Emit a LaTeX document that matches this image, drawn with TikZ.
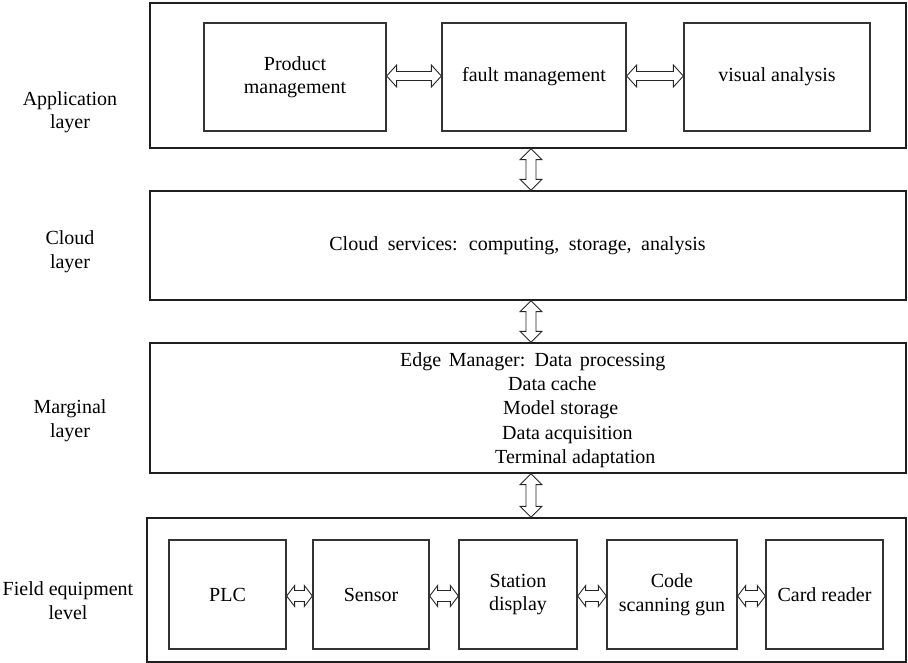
\documentclass[tikz,border=0pt]{standalone}
\usepackage{fontspec}
\setmainfont{Liberation Serif}
\usetikzlibrary{calc}

\tikzset{
  layerbox/.style={draw=black!88, line width=1.3pt, inner sep=0pt, fill=white},
  modbox/.style={draw=black!80, line width=1.3pt, inner sep=0pt, align=center},
  lbl/.style={align=center, inner sep=0pt},
  blockarrow/.style={draw=black!85, line width=0.9pt, fill=white, line join=miter},
}

% horizontal double block arrow between two anchors on the same row
% #1 start, #2 end, #3 head length, #4 half head width, #5 half shaft width
\newcommand{\hdblarrow}[5]{%
  \draw[blockarrow] let \p1=(#1), \p2=(#2) in
    (\x1,\y1) -- (\x1+#3,\y1+#4) -- (\x1+#3,\y1+#5) -- (\x2-#3,\y1+#5)
    -- (\x2-#3,\y1+#4) -- (\x2,\y1) -- (\x2-#3,\y1-#4) -- (\x2-#3,\y1-#5)
    -- (\x1+#3,\y1-#5) -- (\x1+#3,\y1-#4) -- cycle;}
% vertical double block arrow, #1 upper anchor, #2 lower anchor
\newcommand{\vdblarrow}[5]{%
  \draw[blockarrow] let \p1=(#1), \p2=(#2) in
    (\x1,\y1) -- (\x1+#4,\y1-#3) -- (\x1+#5,\y1-#3) -- (\x1+#5,\y2+#3)
    -- (\x1+#4,\y2+#3) -- (\x1,\y2) -- (\x1-#4,\y2+#3) -- (\x1-#5,\y2+#3)
    -- (\x1-#5,\y1-#3) -- (\x1-#4,\y1-#3) -- cycle;}

\begin{document}
\begin{tikzpicture}[x=1pt, y=-1pt, font=\fontsize{20}{23.5}\selectfont]
\useasboundingbox (0,0) rectangle (908,663);

% layer frames
\node[layerbox, minimum width=756pt, minimum height=145pt] (app) at (528,75.5) {};
\node[layerbox, minimum width=756pt, minimum height=109pt] (cloud) at (528,245.5) {};
\node[layerbox, minimum width=756pt, minimum height=130pt] (edge) at (528,408) {};
\node[layerbox, minimum width=759pt, minimum height=144pt] (field) at (526.5,590) {};

% layer names
\node[lbl] (lapp) at (70,112) {Application\\layer};
\node[lbl] (lcloud) at (70,251.5) {Cloud\\layer};
\node[lbl] (ledge) at (70,420.5) {Marginal\\layer};
\node[lbl] (lfield) at (68,600.5) {Field equipment\\level};

% application modules
\node[modbox, minimum width=182pt, minimum height=108pt] (pm) at (295,77) {Product\\management};
\node[modbox, minimum width=184pt, minimum height=108pt] (fm) at (534,77) {fault management};
\node[modbox, minimum width=186pt, minimum height=108pt] (va) at (777,77) {visual analysis};

% cloud and edge contents
\node[lbl] (cloudtxt) at (517.5,246) {\spaceskip=9.5pt\relax Cloud services: computing, storage, analysis};
\node[lbl, align=left, anchor=west, font=\fontsize{20}{24.2}\selectfont] (edgetxt) at (400,410)
  {\spaceskip=7.5pt\relax Edge Manager: Data processing\\
  \hspace*{108pt}Data cache\\
  \hspace*{103pt}Model storage\\
  \hspace*{102pt}Data acquisition\\
  \hspace*{95pt}Terminal adaptation};

% field devices
\node[modbox, minimum width=117pt, minimum height=109pt] (plc) at (227.5,594.5) {PLC};
\node[modbox, minimum width=116pt, minimum height=109pt] (sen) at (371,594.5) {Sensor};
\node[modbox, minimum width=118pt, minimum height=109pt] (sta) at (518,594.5) {Station\\display};
\node[modbox, minimum width=130pt, minimum height=109pt] (csg) at (672,594.5) {Code\\scanning gun};
\node[modbox, minimum width=117pt, minimum height=109pt] (crd) at (824.5,594.5) {Card reader};

% links between application modules
\hdblarrow{$(pm.east)+(0,-1)$}{$(fm.west)+(0,-1)$}{10}{11}{4.5}
\hdblarrow{$(fm.east)+(0,-1)$}{$(va.west)+(0,-1)$}{10}{11}{4.5}

% links between layers
\coordinate (axis) at (531,0);
\vdblarrow{app.south -| axis}{cloud.north -| axis}{11}{11}{5}
\vdblarrow{cloud.south -| axis}{edge.north -| axis}{11}{11}{5}
\vdblarrow{edge.south -| axis}{field.north -| axis}{11}{11}{5}

% links between field devices
\hdblarrow{$(plc.east)+(0,1.5)$}{$(sen.west)+(0,1.5)$}{8}{10.5}{5.5}
\hdblarrow{$(sen.east)+(0,1.5)$}{$(sta.west)+(0,1.5)$}{8}{10.5}{5.5}
\hdblarrow{$(sta.east)+(0,1.5)$}{$(csg.west)+(0,1.5)$}{8}{10.5}{5.5}
\hdblarrow{$(csg.east)+(0,1.5)$}{$(crd.west)+(0,1.5)$}{8}{10.5}{5.5}
\end{tikzpicture}
\end{document}
